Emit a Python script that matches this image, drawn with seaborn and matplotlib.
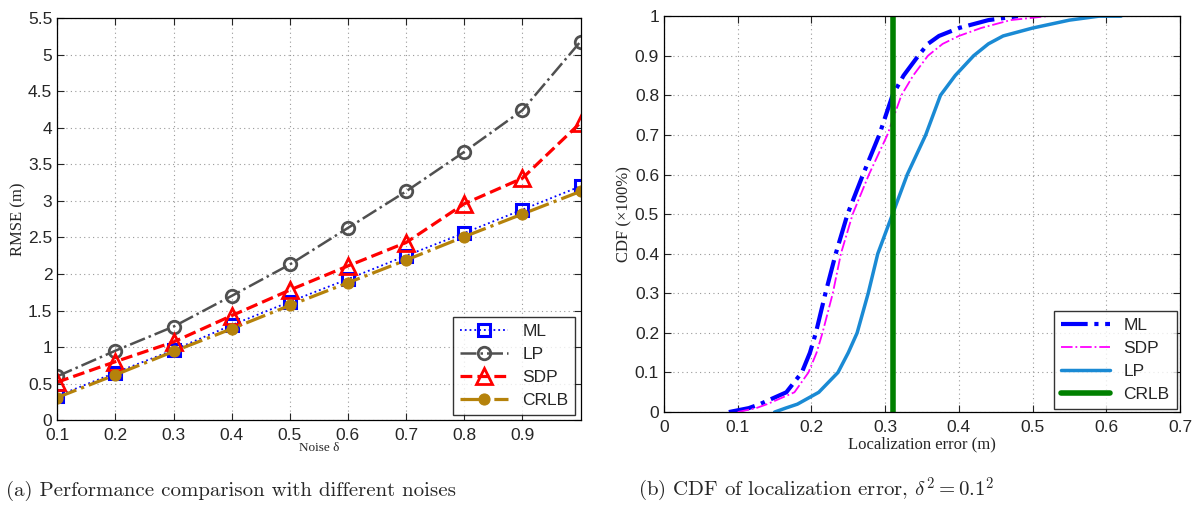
import numpy as np
import pandas as pd
import matplotlib
matplotlib.use("Agg")
import matplotlib.pyplot as plt
import seaborn as sns

# -----------------------------
# Data
# -----------------------------
noise = [0.1, 0.2, 0.3, 0.4, 0.5, 0.6, 0.7, 0.8, 0.9, 1.0]
rmse_ml = [0.33, 0.65, 0.96, 1.30, 1.62, 1.93, 2.25, 2.56, 2.88, 3.20]
rmse_lp = [0.60, 0.95, 1.28, 1.70, 2.13, 2.63, 3.13, 3.67, 4.24, 5.18]
rmse_sdp = [0.52, 0.80, 1.07, 1.43, 1.78, 2.11, 2.43, 2.96, 3.31, 4.07]
rmse_crlb = [0.31, 0.62, 0.94, 1.25, 1.57, 1.88, 2.19, 2.51, 2.82, 3.13]

# CDF curves: error values (m) at given CDF levels
cdf_ml_lvl = [0.0, 0.01, 0.02, 0.05, 0.1, 0.15, 0.2, 0.3, 0.4, 0.5, 0.6, 0.7, 0.8, 0.85, 0.9, 0.93, 0.95, 0.97, 0.99, 1.0]
cdf_ml_err = [0.088, 0.115, 0.13, 0.166, 0.187, 0.198, 0.206, 0.219, 0.233, 0.249, 0.27, 0.292, 0.31, 0.325, 0.345, 0.358, 0.373, 0.40, 0.44, 0.48]
cdf_sdp_lvl = [0.0, 0.01, 0.02, 0.05, 0.1, 0.15, 0.2, 0.3, 0.4, 0.5, 0.6, 0.7, 0.8, 0.85, 0.9, 0.93, 0.95, 0.97, 0.99, 1.0]
cdf_sdp_err = [0.10, 0.125, 0.14, 0.177, 0.196, 0.207, 0.215, 0.229, 0.24, 0.256, 0.278, 0.303, 0.322, 0.338, 0.358, 0.378, 0.40, 0.43, 0.47, 0.52]
cdf_lp_lvl = [0.0, 0.01, 0.02, 0.05, 0.1, 0.15, 0.2, 0.3, 0.4, 0.5, 0.6, 0.7, 0.8, 0.85, 0.9, 0.93, 0.95, 0.97, 0.99, 1.0, 1.0]
cdf_lp_err = [0.15, 0.165, 0.181, 0.21, 0.236, 0.25, 0.262, 0.277, 0.29, 0.31, 0.33, 0.355, 0.375, 0.395, 0.42, 0.44, 0.46, 0.50, 0.55, 0.59, 0.62]
crlb_err = 0.31

# -----------------------------
# Style
# -----------------------------
sns.set_style("ticks")
plt.rcParams["font.family"] = ["Liberation Sans", "DejaVu Sans"]
plt.rcParams["mathtext.fontset"] = "cm"

fig = plt.figure(figsize=(11.92, 5.05), dpi=100)
ax1 = fig.add_axes([0.048, 0.168, 0.439, 0.796])
ax2 = fig.add_axes([0.557, 0.184, 0.433, 0.784])

serif = ["Liberation Serif", "DejaVu Serif"]


def matlab_axes(ax):
    ax.grid(True, linestyle=(0, (1, 3)), color="#999999", linewidth=0.8)
    ax.tick_params(direction="in", top=True, right=True, labelsize=12.5, length=5, width=0.8)
    ax.tick_params(axis="x", pad=6)
    for s in ax.spines.values():
        s.set_linewidth(0.9)
        s.set_color("black")


# -----------------------------
# (a) RMSE vs noise
# -----------------------------
df = pd.DataFrame({"noise": noise, "ML": rmse_ml, "LP": rmse_lp, "SDP": rmse_sdp, "CRLB": rmse_crlb})

sns.lineplot(data=df, x="noise", y="ML", ax=ax1, color="#0000ff", linestyle=":", linewidth=1.3,
             marker="s", markersize=8, markerfacecolor="none", markeredgecolor="#0000ff",
             markeredgewidth=2.2, label="ML")
sns.lineplot(data=df, x="noise", y="LP", ax=ax1, color="#505050", linestyle="-.", linewidth=1.8,
             marker="o", markersize=9, markerfacecolor="none", markeredgecolor="#505050",
             markeredgewidth=2, label="LP")
sns.lineplot(data=df, x="noise", y="SDP", ax=ax1, color="#ff0000", linestyle="--", linewidth=2.3,
             marker="^", markersize=11, markerfacecolor="none", markeredgecolor="#ff0000",
             markeredgewidth=2, label="SDP")
sns.lineplot(data=df, x="noise", y="CRLB", ax=ax1, color="#b5820b", linestyle="-.", linewidth=2.3,
             marker="o", markersize=8, markerfacecolor="#b5820b", markeredgecolor="#b5820b",
             label="CRLB")

ax1.set_xlim(0.1, 1.0)
ax1.set_ylim(0, 5.5)
ax1.set_xticks([0.1, 0.2, 0.3, 0.4, 0.5, 0.6, 0.7, 0.8, 0.9])
ax1.set_xticklabels(["0.1", "0.2", "0.3", "0.4", "0.5", "0.6", "0.7", "0.8", "0.9"])
yt = np.arange(0, 5.51, 0.5)
ax1.set_yticks(yt)
ax1.set_yticklabels([f"{v:g}" for v in yt])
ax1.set_xlabel("Noise δ", family=serif, fontsize=9.5, labelpad=-1)
ax1.set_ylabel("RMSE (m)", family=serif, fontsize=12, labelpad=1)
matlab_axes(ax1)
leg1 = ax1.legend(loc="lower right", fontsize=12.5, frameon=True, fancybox=False, edgecolor="black",
                  handlelength=2.8, borderaxespad=0.3, labelspacing=0.45)
leg1.get_frame().set_linewidth(1.0)

# -----------------------------
# (b) CDF of localization error
# -----------------------------
sns.lineplot(x=cdf_ml_err, y=cdf_ml_lvl, ax=ax2, color="#0000ff", linestyle="-.", linewidth=3,
             label="ML")
sns.lineplot(x=cdf_sdp_err, y=cdf_sdp_lvl, ax=ax2, color="#ff00ff", linestyle="-.", linewidth=1.3,
             label="SDP")
sns.lineplot(x=cdf_lp_err, y=cdf_lp_lvl, ax=ax2, color="#1a8ad4", linestyle="-", linewidth=2.5,
             label="LP")
ax2.axvline(crlb_err, color="#008000", linewidth=4, label="CRLB")

ax2.set_xlim(0, 0.7)
ax2.set_ylim(0, 1)
xt = np.arange(0, 0.71, 0.1)
ax2.set_xticks(xt)
ax2.set_xticklabels([f"{v:g}" for v in xt])
yt2 = np.arange(0, 1.01, 0.1)
ax2.set_yticks(yt2)
ax2.set_yticklabels([f"{v:g}" for v in yt2])
ax2.set_xlabel("Localization error (m)", family=serif, fontsize=12, labelpad=1)
ax2.set_ylabel("CDF (×100%)", family=serif, fontsize=12, labelpad=2)
matlab_axes(ax2)
leg2 = ax2.legend(loc="lower right", fontsize=12.5, frameon=True, fancybox=False, edgecolor="black",
                  handlelength=2.8, borderaxespad=0.2, labelspacing=0.45)
leg2.get_frame().set_linewidth(1.0)

# -----------------------------
# Captions
# -----------------------------
fig.text(0.005, 0.018, "(a) Performance comparison with different noises",
         family=["cmr10", "DejaVu Serif"], fontsize=15, ha="left")
fig.text(0.535, 0.018, r"(b) CDF of localization error, $\delta^2 = 0.1^2$",
         family=["cmr10", "DejaVu Serif"], fontsize=15, ha="left")

fig.savefig("out.png", dpi=100)
